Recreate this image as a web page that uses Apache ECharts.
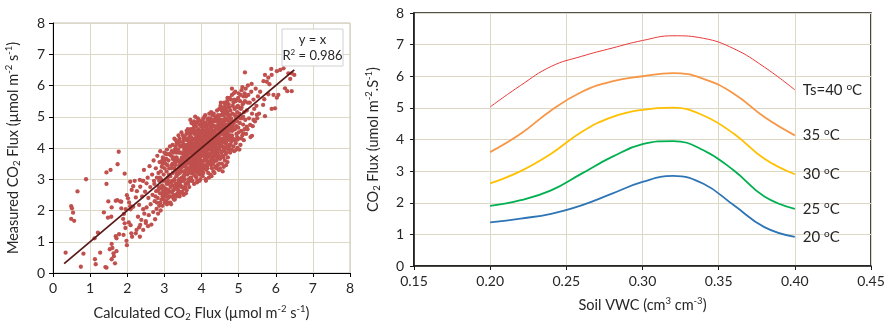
<!DOCTYPE html>
<html><head><meta charset="utf-8">
<script src="https://cdn.jsdelivr.net/npm/echarts@6/dist/echarts.min.js"></script>
<style>html,body{margin:0;padding:0;background:#fff}#c{width:887px;height:326px}</style>
</head><body><div id="c"></div>
<script>
// ---- Left panel: measured vs calculated CO2 flux ----
const scatterPoints = [
// sparse low outliers
[1.77,3.88],[1.74,3.48],[1.44,3.22],[1.55,3.30],[1.93,3.18],[0.89,3.0],[0.66,2.61],[0.49,2.14],[0.51,2.07],[0.54,1.93],[0.49,1.73],[0.57,1.67],
[1.44,2.85],[1.49,2.29],[1.58,2.10],[1.69,2.31],[1.73,2.33],[1.37,1.94],[1.48,1.77],[1.57,1.80],[0.34,0.65],[0.82,0.62],[0.75,0.20],
[1.13,0.44],[1.15,0.28],[1.27,0.65],[1.41,0.19],[1.44,0.17],[1.58,0.93],[1.60,0.80],[1.53,0.76],[1.63,0.63],[1.64,0.54],[1.58,0.44],[1.67,0.31],[1.71,0.70],
[1.69,1.18],[1.71,1.11],[1.78,1.24],[1.90,1.22],[1.95,1.44],[1.98,1.03],[1.99,0.89],[2.11,1.27],[2.13,1.16],[2.09,1.53],[2.34,1.16],[2.32,1.46],[1.21,1.29],[1.12,1.11],
[1.81,2.29],[1.84,2.28],[1.84,2.07],[1.96,2.04],[1.91,1.89],[1.89,1.73],[1.93,1.59],[2.04,1.62],[1.99,2.49],[2.02,2.39],[2.05,2.26],[2.08,2.14],[2.09,2.04],
[2.08,2.92],[2.20,2.95],[2.16,2.78],[2.12,2.66],[2.34,2.98],[2.43,2.95],[2.35,2.76],[2.52,2.87],[2.26,2.62],[2.23,2.42],[2.16,2.12],[2.32,2.18],[2.43,2.04],
[2.29,1.80],[2.38,1.70],[2.50,1.66],[2.35,1.54],[2.25,1.38],[2.23,1.27],[2.43,1.38],[2.56,1.50],
// band 2.4-2.8
[2.42,2.95],[2.45,3.3],[2.48,2.6],[2.5,1.6],[2.52,2.1],[2.55,3.05],[2.57,2.4],[2.58,1.85],[2.6,3.42],[2.62,2.75],[2.63,2.2],[2.65,1.55],[2.67,3.15],[2.68,2.5],[2.7,1.95],[2.71,3.6],[2.73,2.85],[2.74,2.3],[2.75,1.72],[2.77,3.35],[2.78,2.62],[2.79,2.05],[2.8,3.05],[2.4,2.45],[2.46,1.9],
// band 2.8-3.2
[2.81,3.75],[2.82,2.4],[2.83,1.9],[2.84,3.2],[2.85,2.75],[2.86,2.15],[2.87,3.55],[2.88,2.55],[2.89,3.9],[2.9,2.0],[2.91,3.0],[2.92,2.35],[2.93,3.4],[2.94,2.8],[2.95,2.15],[2.96,3.7],[2.97,2.6],[2.98,3.15],[2.99,2.45],[3.0,3.85],[3.01,2.25],[3.02,2.95],[3.03,3.5],[3.04,2.7],[3.05,2.3],[3.06,3.25],[3.07,3.95],[3.08,2.55],[3.09,3.05],[3.1,2.4],[3.11,3.6],[3.12,2.85],[3.13,3.35],[3.14,2.6],[3.15,4.05],[3.16,3.1],[3.17,2.45],[3.18,3.75],[3.19,2.9],[3.2,3.45],[2.95,3.5],[3.05,3.65],[2.88,3.05],[3.12,2.25],[3.18,2.2],
// band 3.2-3.6
[3.21,2.6],[3.22,4.1],[3.23,3.2],[3.24,2.4],[3.25,3.7],[3.26,2.95],[3.27,4.3],[3.28,2.7],[3.29,3.45],[3.3,3.9],[3.31,2.5],[3.32,3.1],[3.33,4.15],[3.34,2.85],[3.35,3.6],[3.36,3.3],[3.37,2.65],[3.38,4.4],[3.39,3.85],[3.4,3.0],[3.41,2.45],[3.42,3.55],[3.43,4.05],[3.44,2.8],[3.45,3.25],[3.46,4.5],[3.47,3.7],[3.48,2.6],[3.49,3.4],[3.5,4.2],[3.51,2.95],[3.52,3.8],[3.53,2.7],[3.54,3.15],[3.55,4.35],[3.56,3.55],[3.57,2.85],[3.58,3.95],[3.59,3.3],[3.6,2.65],
[3.22,3.5],[3.24,3.85],[3.27,3.0],[3.3,3.3],[3.33,3.7],[3.35,2.55],[3.37,3.95],[3.4,3.45],[3.42,2.9],[3.45,3.85],[3.47,3.05],[3.5,3.6],[3.52,2.5],[3.55,3.0],[3.57,4.1],[3.59,3.65],[3.26,2.35],[3.31,4.25],[3.36,3.15],[3.41,4.3],[3.46,2.75],[3.51,3.25],[3.56,4.0],[3.58,2.55],[3.28,3.6],[3.38,3.35],[3.44,3.6],[3.48,4.05],[3.53,3.45],[3.6,4.25],
// band 3.6-4.0
[3.61,3.5],[3.62,2.9],[3.63,4.6],[3.64,3.8],[3.65,3.2],[3.66,4.2],[3.67,2.75],[3.68,3.65],[3.69,4.45],[3.7,3.05],[3.71,3.9],[3.72,3.4],[3.73,4.8],[3.74,2.95],[3.75,4.1],[3.76,3.55],[3.77,3.25],[3.78,4.55],[3.79,3.75],[3.8,2.85],[3.81,4.3],[3.82,3.45],[3.83,3.95],[3.84,3.1],[3.85,4.7],[3.86,3.65],[3.87,4.15],[3.88,3.3],[3.89,2.95],[3.9,4.4],[3.91,3.85],[3.92,3.5],[3.93,4.9],[3.94,3.15],[3.95,4.05],[3.96,3.7],[3.97,3.0],[3.98,4.55],[3.99,3.4],[4.0,4.25],
[3.61,4.0],[3.63,3.35],[3.65,4.5],[3.66,3.0],[3.68,4.05],[3.7,3.7],[3.72,4.35],[3.73,3.2],[3.75,3.85],[3.77,4.6],[3.78,3.45],[3.8,4.0],[3.82,3.25],[3.83,4.5],[3.85,3.55],[3.87,3.9],[3.88,4.35],[3.9,3.2],[3.92,4.15],[3.94,3.6],[3.95,4.75],[3.97,3.85],[3.99,3.15],[3.62,3.65],[3.64,4.3],[3.67,3.5],[3.69,3.85],[3.71,4.6],[3.74,3.65],[3.76,4.3],[3.79,4.15],[3.81,3.65],[3.84,3.8],[3.86,4.35],[3.89,3.75],[3.91,4.6],[3.93,3.35],[3.96,4.35],[3.98,3.95],[3.64,2.85],[3.7,4.9],[3.76,2.95],[3.83,5.0],[3.88,2.9],[3.95,2.95],[3.86,3.05],[3.73,3.95],[3.8,3.3],[3.92,4.0],[3.97,4.45],
// band 4.0-4.4
[4.01,3.55],[4.02,4.8],[4.03,3.1],[4.04,4.15],[4.05,3.75],[4.06,4.5],[4.07,3.35],[4.08,5.0],[4.09,3.9],[4.1,4.3],[4.11,3.0],[4.12,3.6],[4.13,4.65],[4.14,4.05],[4.15,3.4],[4.16,4.9],[4.17,3.8],[4.18,3.2],[4.19,4.4],[4.2,3.95],[4.21,5.1],[4.22,3.55],[4.23,4.2],[4.24,3.15],[4.25,4.7],[4.26,3.7],[4.27,4.45],[4.28,3.35],[4.29,4.0],[4.3,5.05],[4.31,3.85],[4.32,3.25],[4.33,4.55],[4.34,4.25],[4.35,3.6],[4.36,4.85],[4.37,3.4],[4.38,4.1],[4.39,3.75],[4.4,4.6],
[4.01,4.35],[4.02,3.9],[4.04,3.45],[4.05,4.95],[4.07,4.2],[4.08,3.6],[4.1,3.75],[4.11,4.55],[4.13,3.3],[4.14,4.75],[4.16,4.25],[4.17,3.55],[4.19,3.95],[4.2,4.6],[4.22,4.85],[4.23,3.75],[4.25,4.05],[4.26,3.45],[4.28,4.8],[4.29,4.3],[4.31,3.5],[4.32,4.7],[4.34,3.9],[4.35,4.4],[4.37,4.95],[4.38,3.6],[4.4,4.2],[4.03,4.6],[4.06,4.0],[4.09,4.7],[4.12,4.15],[4.15,4.45],[4.18,4.05],[4.21,4.3],[4.24,4.5],[4.27,3.85],[4.3,4.45],[4.33,3.95],[4.36,4.15],[4.39,4.9],[4.05,3.2],[4.12,2.95],[4.2,3.05],[4.27,3.1],[4.35,3.2],[4.08,4.4],[4.14,3.65],[4.22,4.1],[4.3,3.7],[4.38,4.45],[4.26,5.15],[4.33,5.1],[4.18,4.95],[4.1,5.05],[4.4,3.35],
// band 4.4-4.8
[4.41,3.9],[4.42,5.2],[4.43,3.45],[4.44,4.45],[4.45,4.0],[4.46,5.0],[4.47,3.3],[4.48,4.7],[4.49,4.2],[4.5,3.65],[4.51,5.35],[4.52,4.5],[4.53,3.85],[4.54,4.9],[4.55,3.5],[4.56,4.3],[4.57,5.1],[4.58,4.05],[4.59,3.7],[4.6,4.75],[4.61,5.45],[4.62,4.4],[4.63,3.6],[4.64,4.95],[4.65,4.15],[4.66,5.25],[4.67,3.85],[4.68,4.55],[4.69,5.5],[4.7,4.25],[4.71,3.7],[4.72,5.05],[4.73,4.6],[4.74,4.0],[4.75,5.3],[4.76,4.4],[4.77,3.85],[4.78,4.85],[4.79,5.55],[4.8,4.2],
[4.42,4.15],[4.44,3.7],[4.46,4.65],[4.48,3.95],[4.5,4.45],[4.52,5.05],[4.54,4.15],[4.56,3.75],[4.58,4.6],[4.6,5.15],[4.62,3.95],[4.64,4.55],[4.66,3.45],[4.68,4.9],[4.7,5.15],[4.72,4.35],[4.74,4.75],[4.76,5.05],[4.78,4.3],[4.8,4.95],[4.45,4.8],[4.5,3.35],[4.55,4.65],[4.6,3.4],[4.65,4.75],[4.7,3.55],[4.75,4.1],[4.53,4.3],[4.63,5.3],[4.73,5.4],[4.43,4.9],[4.57,3.25],[4.67,4.2],[4.77,4.55],[4.48,5.25],
// band 4.8-5.2
[4.81,3.95],[4.82,5.7],[4.83,4.55],[4.84,5.1],[4.85,4.3],[4.86,5.45],[4.87,4.8],[4.88,3.9],[4.89,5.25],[4.9,4.6],[4.91,5.8],[4.92,4.15],[4.93,5.0],[4.94,4.45],[4.95,5.55],[4.96,4.85],[4.97,4.0],[4.98,5.35],[4.99,4.65],[5.0,5.75],[5.01,4.3],[5.02,5.1],[5.03,4.8],[5.04,5.5],[5.05,4.1],[5.06,5.25],[5.07,4.55],[5.08,5.85],[5.09,4.95],[5.1,4.4],[5.11,5.4],[5.12,4.75],[5.13,5.65],[5.14,4.25],[5.15,5.15],[5.16,4.6],[5.17,5.5],[5.18,4.9],[5.19,5.9],[5.2,4.45],
[4.84,4.7],[4.88,5.55],[4.92,4.9],[4.96,5.15],[5.0,4.5],[5.04,4.95],[5.08,5.3],[5.12,5.0],[5.16,5.75],[4.86,4.05],[4.94,3.95],[5.02,3.95],
// band 5.2-5.6
[5.22,5.2],[5.24,4.6],[5.26,5.7],[5.28,4.95],[5.3,5.45],[5.32,4.35],[5.34,5.8],[5.36,5.1],[5.38,4.7],[5.4,5.55],[5.42,5.25],[5.44,4.85],[5.46,5.9],[5.48,5.35],[5.5,4.95],[5.52,5.65],[5.55,5.1],[5.58,5.8],[5.25,6.0],[5.35,6.05],
// upper-right sparse
[5.17,6.42],[5.88,6.53],[6.03,6.46],[6.12,6.50],[6.21,6.55],[6.34,6.39],[6.43,6.39],[6.50,6.34],[6.39,6.21],[5.71,6.34],[5.80,6.25],[5.89,6.34],[5.67,6.14],[5.76,6.12],[5.83,6.04],
[6.25,5.91],[6.31,5.82],[6.43,5.82],[6.03,5.61],[6.07,5.70],[5.94,5.70],[5.80,5.72],[5.69,5.56],[5.66,5.38],[5.98,5.27],[5.89,5.25],[5.71,5.02],[5.49,5.06],[5.40,4.90],[5.31,4.74],[5.36,4.39],[5.22,4.68],[5.13,4.47],[5.07,4.31],[4.95,4.26],
// dense core fill
[2.905,3.25],[2.925,2.7],[2.945,3.6],[2.965,2.95],[2.985,2.35],[3.005,3.35],[3.025,2.65],[3.045,3.8],[3.065,2.85],[3.085,3.45],[3.105,2.65],[3.125,3.15],[3.145,3.8],[3.165,2.75],[3.185,3.35],[3.205,2.95],[3.225,3.65],[3.245,2.65],[3.265,3.35],[3.285,3.95],[3.305,2.75],
[3.315,3.55],[3.335,3.2],[3.355,3.95],[3.375,2.95],[3.395,3.6],[3.415,3.2],[3.435,3.85],[3.455,3.45],[3.475,2.95],[3.495,4.1],[3.515,3.55],[3.535,3.95],[3.555,3.25],[3.575,3.7],[3.595,4.45],[3.615,3.15],[3.635,3.95],[3.655,3.55],[3.675,4.35],[3.695,3.3],
[3.32,3.85],[3.36,2.8],[3.4,4.1],[3.44,3.35],[3.48,3.55],[3.52,4.3],[3.56,2.75],[3.6,3.85],[3.64,3.55],[3.68,2.95],
[3.705,4.15],[3.715,3.55],[3.725,3.05],[3.735,4.5],[3.745,3.8],[3.755,3.35],[3.765,4.05],[3.775,3.6],[3.785,4.75],[3.795,3.15],[3.805,4.45],[3.815,3.9],[3.825,3.55],[3.835,4.25],[3.845,3.35],[3.855,4.0],[3.865,4.55],[3.875,3.7],[3.885,4.1],[3.895,3.45],[3.905,4.85],[3.915,4.25],[3.925,3.75],[3.935,4.45],[3.945,3.95],[3.955,3.3],[3.965,4.2],[3.975,3.6],[3.985,4.7],[3.995,4.05],[4.005,3.75],[4.015,4.5],[4.025,3.3],[4.035,4.3],[4.045,3.95],[4.055,4.7],[4.065,3.6],[4.075,4.45],[4.085,3.85],[4.095,4.15],
[3.71,3.25],[3.74,4.25],[3.77,3.9],[3.8,4.65],[3.83,3.7],[3.86,4.8],[3.89,4.2],[3.92,3.65],[3.95,4.5],[3.98,3.25],[4.01,4.05],[4.04,4.85],[4.07,3.85],[4.1,4.5],
[4.105,3.45],[4.115,4.8],[4.125,4.35],[4.135,3.9],[4.145,4.6],[4.155,3.7],[4.165,4.15],[4.175,4.75],[4.185,3.5],[4.195,4.25],[4.205,3.8],[4.215,4.5],[4.225,4.0],[4.235,4.95],[4.245,3.6],[4.255,4.35],[4.265,3.95],[4.275,4.65],[4.285,3.65],[4.295,4.2],[4.305,4.85],[4.315,4.05],[4.325,3.55],[4.335,4.4],[4.345,4.7],[4.355,3.85],[4.365,4.3],[4.375,3.75],[4.385,5.0],[4.395,4.35],[4.405,3.6],[4.415,4.7],[4.425,4.25],[4.435,3.85],[4.445,5.05],[4.455,4.35],[4.465,3.75],[4.475,4.55],[4.485,4.1],[4.495,4.9],
[4.12,3.85],[4.16,3.35],[4.2,4.05],[4.24,4.75],[4.28,4.1],[4.32,3.95],[4.36,4.55],[4.4,3.95],[4.44,4.6],[4.48,3.5],
[4.505,4.05],[4.515,4.75],[4.525,3.7],[4.535,4.55],[4.545,5.2],[4.555,4.25],[4.565,4.9],[4.575,3.9],[4.585,4.45],[4.595,5.05],[4.605,4.0],[4.615,4.65],[4.625,5.2],[4.635,4.3],[4.645,3.8],[4.655,4.95],[4.665,4.45],[4.675,5.1],[4.685,4.05],[4.695,4.7],[4.705,4.45],[4.715,5.3],[4.725,3.95],[4.735,4.85],[4.745,4.3],[4.755,4.95],[4.765,4.6],[4.775,5.2],[4.785,4.1],[4.795,4.7],
[4.82,4.4],[4.84,5.35],[4.86,4.85],[4.88,4.25],[4.9,5.05],[4.92,5.5],[4.94,4.7],[4.96,4.35],[4.98,5.0],[5.0,5.3],
// second core fill
[2.72,2.95],[2.76,2.45],[2.8,2.25],[2.83,2.65],[2.86,2.95],[2.89,2.25],[2.92,2.55],[2.95,2.45],[2.98,2.75],[3.01,2.55],[3.04,2.45],[3.07,2.2],[3.1,2.95],[3.13,2.45],[3.16,2.25],[3.19,2.6],[3.22,2.8],[3.25,2.5],[3.28,2.35],[3.31,2.85],[3.34,2.45],[3.37,2.75],[3.4,2.6],[3.43,2.55],[3.46,3.0],[3.49,2.75],[3.52,3.1],
[3.53,3.7],[3.57,3.4],[3.61,3.75],[3.65,3.35],[3.69,3.6],[3.73,3.5],[3.77,3.75],[3.81,3.45],[3.85,4.1],[3.89,4.5],[3.93,3.8],[3.97,4.15],[4.01,3.35],[4.05,4.3],[4.09,3.65],[4.13,4.25],[4.17,4.55],[4.21,3.75],[4.25,4.25],[4.29,4.55],[4.33,3.75],[4.37,4.35],[4.41,4.45],[4.45,4.2],[4.49,4.65],[4.53,4.05],[4.57,4.45],[4.61,4.85],[4.65,4.35],[4.69,4.0],[4.73,4.4],[4.77,4.8],[4.81,4.6],
[3.545,3.9],[3.585,3.5],[3.625,4.1],[3.665,3.85],[3.705,3.5],[3.745,4.1],[3.785,3.95],[3.825,4.15],[3.865,3.85],[3.905,3.6],[3.945,4.25],[3.985,3.5],[4.025,4.6],[4.065,4.1],[4.105,3.95],[4.145,4.35],[4.185,3.75],[4.225,4.4],[4.265,4.15],[4.305,4.0],[4.345,4.05],[4.385,4.6],[4.425,4.0],[4.465,4.4],[4.505,4.3],[4.545,4.8],[4.585,4.2],[4.625,4.55],[4.665,4.75],[4.705,4.6],
[4.52,5.45],[4.58,5.3],[4.64,5.4],[4.7,5.6],[4.76,5.6],[4.82,5.9],[4.87,5.75],[4.93,5.3],[4.99,5.6],[5.05,5.7],[5.1,5.95],[5.14,5.45],[5.2,5.65],[5.25,5.45],[4.3,4.9],[4.2,4.75],[4.0,4.85],[3.9,4.95],[3.8,4.85],[3.6,4.55],[3.5,4.4],[3.4,4.2],[3.3,4.05],[3.2,3.9],[3.1,3.8],[3.0,3.6]
];
const oneToOneX = [0.3, 6.5];

// ---- Right panel: modelled CO2 flux vs soil VWC ----
const vwc    = [0.20, 0.22, 0.24, 0.26, 0.28, 0.30, 0.32, 0.34, 0.36, 0.38, 0.40];
const flux20 = [1.38, 1.50, 1.65, 1.92, 2.29, 2.66, 2.85, 2.60, 1.92, 1.23, 0.92];
const flux25 = [1.90, 2.08, 2.39, 2.92, 3.45, 3.85, 3.95, 3.66, 3.02, 2.20, 1.81];
const flux30 = [2.61, 3.00, 3.55, 4.24, 4.71, 4.94, 5.01, 4.76, 4.18, 3.39, 2.90];
const flux35 = [3.60, 4.18, 4.92, 5.50, 5.84, 6.00, 6.10, 5.92, 5.45, 4.71, 4.13];
const flux40 = [5.03, 5.71, 6.31, 6.63, 6.89, 7.13, 7.28, 7.20, 6.87, 6.29, 5.57];
const curveLabels = ['20 {o|o}C', '25 {o|o}C', '30 {o|o}C', '35 {o|o}C', 'Ts=40 {o|o}C'];
const curveColors = ['#2e75b6', '#00b050', '#ffc000', '#f79646', '#e8393a'];

const FONT = 'Lato, "Open Sans", sans-serif';
const txt = '#262626';
const gridCol = '#ddd8c5';
const richName = {
  n: {fontSize: 14.5, color: txt, fontFamily: FONT, lineHeight: 18},
  sub: {fontSize: 9.5, color: txt, fontFamily: FONT, verticalAlign: 'bottom', lineHeight: 18, padding:[6,0,0,0]},
  sup: {fontSize: 9.5, color: txt, fontFamily: FONT, verticalAlign: 'top', lineHeight: 18, padding:[0,0,6,0]}
};

const chart = echarts.init(document.getElementById('c'), null, {renderer: 'canvas'});

function curve(ys, i) {
  return {
    type: 'line', xAxisIndex: 1, yAxisIndex: 1, smooth: 0.45, symbol: 'none',
    data: vwc.map((x, k) => [x, ys[k]]),
    lineStyle: {color: curveColors[i], width: i === 4 ? 1 : 1.8},
    itemStyle: {color: curveColors[i]},
    endLabel: {show: true, formatter: curveLabels[i], distance: 8, fontSize: 15, color: txt, fontFamily: FONT,
      rich: {o: {fontSize: 10, color: txt, fontFamily: FONT, verticalAlign: 'top', padding: [0,0,7,0]}}},
    z: 3
  };
}

chart.setOption({
  animation: false,
  textStyle: {fontFamily: FONT},
  grid: [
    {left: 53, top: 23, width: 297, height: 250, show: true, borderColor: '#bfbfbf', borderWidth: 1, containLabel: false, outerBoundsMode: 'none'},
    {left: 414, top: 13, width: 457, height: 253, show: true, borderColor: '#1a1a1a', borderWidth: 1.6, containLabel: false, outerBoundsMode: 'none'}
  ],
  xAxis: [
    {gridIndex: 0, type: 'value', min: 0, max: 8, interval: 1,
     axisLine: {lineStyle: {color: '#000', width: 1}}, axisTick: {show: true, length: 4, lineStyle: {color: '#000'}},
     axisLabel: {fontSize: 14, color: txt, margin: 8},
     splitLine: {show: true, lineStyle: {color: gridCol, width: 1}},
     name: '{n|Calculated CO}{sub|2}{n| Flux (µmol m}{sup|-2}{n| s}{sup|-1}{n|)}',
     nameLocation: 'middle', nameGap: 31, nameTextStyle: {rich: richName}},
    {gridIndex: 1, type: 'value', min: 0.15, max: 0.45, interval: 0.05,
     axisLine: {lineStyle: {color: '#1a1a1a', width: 1.6}}, axisTick: {show: true, length: 4, lineStyle: {color: '#1a1a1a'}},
     axisLabel: {fontSize: 14, color: txt, margin: 8, formatter: v => v.toFixed(2)},
     splitLine: {show: true, lineStyle: {color: gridCol, width: 1}},
     name: '{n|Soil VWC (cm}{sup|3}{n| cm}{sup|-3}{n|)}',
     nameLocation: 'middle', nameGap: 30, nameTextStyle: {rich: richName}}
  ],
  yAxis: [
    {gridIndex: 0, type: 'value', min: 0, max: 8, interval: 1,
     axisLine: {show: true, lineStyle: {color: '#000', width: 1}}, axisTick: {show: true, length: 4, lineStyle: {color: '#000'}},
     axisLabel: {fontSize: 14, color: txt, margin: 8},
     splitLine: {show: true, lineStyle: {color: gridCol, width: 1}},
     name: '{n|Measured CO}{sub|2}{n| Flux (µmol m}{sup|-2}{n| s}{sup|-1}{n|)}',
     nameLocation: 'middle', nameGap: 31, nameRotate: 90, nameTextStyle: {rich: richName}},
    {gridIndex: 1, type: 'value', min: 0, max: 8, interval: 1,
     axisLine: {show: true, lineStyle: {color: '#1a1a1a', width: 1.6}}, axisTick: {show: true, length: 4, lineStyle: {color: '#1a1a1a'}},
     axisLabel: {fontSize: 14, color: txt, margin: 10},
     splitLine: {show: true, lineStyle: {color: gridCol, width: 1}},
     name: '{n|CO}{sub|2}{n| Flux (umol m}{sup|-2}{n|.S}{sup|-1}{n|)}',
     nameLocation: 'middle', nameGap: 32, nameRotate: 90, nameTextStyle: {rich: richName}}
  ],
  series: [
    {type: 'scatter', xAxisIndex: 0, yAxisIndex: 0, data: scatterPoints, symbol: 'circle', symbolSize: 4.3,
     itemStyle: {color: '#c0504d', opacity: 1}, z: 2},
    {type: 'line', xAxisIndex: 0, yAxisIndex: 0, data: oneToOneX.map(v => [v, v]), symbol: 'none',
     lineStyle: {color: '#5a1a1a', width: 1.8}, z: 4},
    curve(flux20, 0), curve(flux25, 1), curve(flux30, 2), curve(flux35, 3), curve(flux40, 4)
  ],
  graphic: [
    {type: 'rect', z: 100, shape: {x: 282, y: 29, width: 61, height: 37}, style: {fill: '#ffffff', stroke: '#d0d0d0', lineWidth: 1}},
    {type: 'text', z: 101, x: 312.5, y: 40, style: {text: 'y = x', font: '13px ' + FONT, fill: txt, align: 'center', verticalAlign: 'middle'}},
    {type: 'text', z: 101, x: 312.5, y: 56, style: {text: '{a|R}{s|2}{a| = 0.986}', align: 'center', verticalAlign: 'middle',
      rich: {a: {fontSize: 13, fontFamily: FONT, fill: txt, lineHeight: 16}, s: {fontSize: 8, fontFamily: FONT, fill: txt, verticalAlign: 'top', lineHeight: 16, padding:[0,0,6,0]}}}}
  ]
});
</script></body></html>
